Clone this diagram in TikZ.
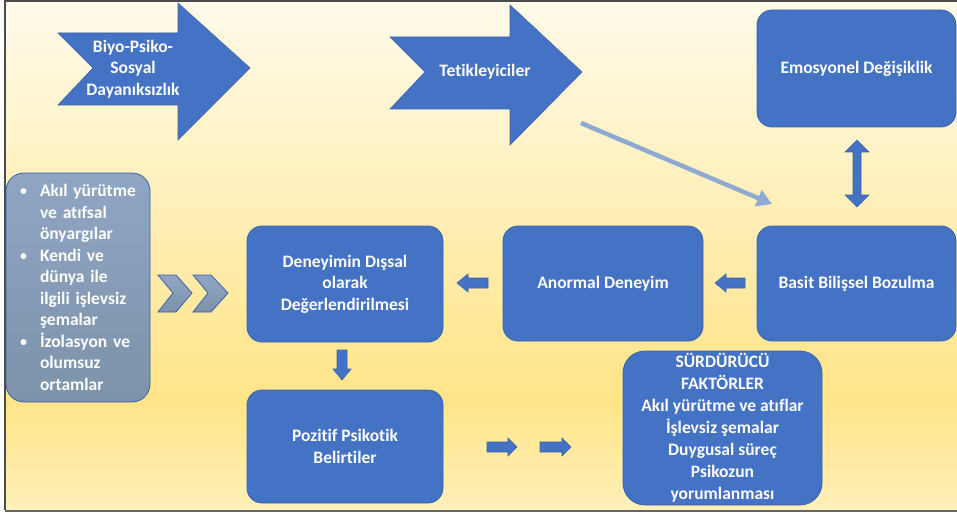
\documentclass[tikz,border=0pt]{standalone}
\usepackage{fontspec}
\setmainfont{Carlito}[Ligatures=NoCommon]
\usetikzlibrary{arrows.meta}
\definecolor{bluefill}{HTML}{4472C4}
\definecolor{blueline}{HTML}{3A62AB}
\definecolor{grayA}{HTML}{8FA5C4}
\definecolor{grayB}{HTML}{7D93A9}
\definecolor{bgtop}{HTML}{FFFBEB}
\definecolor{bgmid}{HTML}{FFE488}
\definecolor{bgbot}{HTML}{FFF0BA}
\definecolor{lightarrow}{HTML}{8FAAD2}
\newcommand\bul{\makebox[20pt][l]{\raisebox{1pt}{\scalebox{0.8}{\textbullet}}}}
\newcommand\ind{\hspace*{20pt}}
\tikzset{
 txt/.style={font=\fontsize{17.5}{21.5}\selectfont\bfseries},
 box/.style={draw=blueline, line width=0.8pt, fill=bluefill, rounded corners=15pt, text=white, align=center, txt, inner sep=0pt},
 blk/.style={draw=blueline, fill=bluefill, line width=0.6pt, line join=miter},
 chev/.style={draw=blueline, top color=grayA, bottom color=grayB, line width=0.8pt, line join=miter},
 lbl/.style={text=white, align=center, txt, inner sep=0pt},
}
\begin{document}
\begin{tikzpicture}[x=1pt,y=-1pt]
\useasboundingbox (0,0) rectangle (957,513);
\fill[white] (0,0) rectangle (957,513);
\shade[top color=bgtop, bottom color=bgmid] (5,1) rectangle (957,400);
\shade[top color=bgmid, bottom color=bgbot] (5,399.5) rectangle (957,510);
\draw[line width=1.5pt, black!70] (4,1) -- (957,1);
\draw[line width=1.5pt, black!70] (5,1) -- (5,510);
\draw[line width=2.5pt, black!60] (5,511) -- (957,511);

% big block arrows
\draw[blk] (58,33) -- (178,33) -- (178,3) -- (250,68) -- (178,140) -- (178,105) -- (58,105) -- (93,68) -- cycle;
\node[lbl] (biyo) at (133,69) {Biyo-Psiko-\\Sosyal\\Dayanıksızlık};
\draw[blk] (390,37) -- (510,37) -- (510,5) -- (582,72) -- (510,145) -- (510,109) -- (390,109) -- (425,72) -- cycle;
\node[lbl] (tet) at (485,72) {Tetikleyiciler};

% boxes
\node[box, minimum width=199pt, minimum height=117pt] (emo) at (856.5,68.5) {Emosyonel Değişiklik};
\node[box, minimum width=199pt, minimum height=115pt] (basit) at (856.5,283.5) {Basit Bilişsel Bozulma};
\node[box, minimum width=200pt, minimum height=115pt] (anormal) at (603,283.5) {Anormal Deneyim};
\node[box, minimum width=196pt, minimum height=116pt] (dis) at (345,284) {Deneyimin Dışsal\\olarak\\Değerlendirilmesi};
\node[box, minimum width=196pt, minimum height=113pt] (poz) at (345,446.5) {Pozitif Psikotik\\Belirtiler};
\node[box, rounded corners=22pt, minimum width=199pt, minimum height=154pt, font=\fontsize{17.5}{22}\selectfont\bfseries] (surd) at (722.5,428) {SÜRDÜRÜCÜ\\FAKTÖRLER\\Akıl yürütme ve atıflar\\İşlevsiz şemalar\\Duygusal süreç\\Psikozun\\yorumlanması};

% left grey box
\node[draw=blueline, line width=0.8pt, top color=grayA, bottom color=grayB, rounded corners=18pt, minimum width=144pt, minimum height=229pt, text width=116pt, align=left, text=white, txt, inner sep=0pt] (risk) at (78,287.5)
{\bul Akıl yürütme\\ \ind ve atıfsal\\ \ind önyargılar\\ \bul Kendi ve\\ \ind dünya ile\\ \ind ilgili işlevsiz\\ \ind şemalar\\ \bul İzolasyon ve\\ \ind olumsuz\\ \ind ortamlar};

% chevrons
\draw[chev] (158,275) -- (176,275) -- (192,293) -- (176,312) -- (158,312) -- (173,293) -- cycle;
\draw[chev] (193,275) -- (211,275) -- (228,293) -- (211,312) -- (193,312) -- (208,293) -- cycle;

% light blue arrow
\coordinate (lbs) at (581,123);
\coordinate (lbe) at (772,204);
\draw[lightarrow, line width=4.5pt, -{Triangle[length=15pt,width=17pt]}] (lbs) -- (lbe);

% double vertical arrow
\draw[blk] (857,140) -- (869,152) -- (861,152) -- (861,195) -- (869,195) -- (857,207) -- (845,195) -- (853,195) -- (853,152) -- (845,152) -- cycle;

% small arrows
\draw[blk] (488,278) -- (468,278) -- (468,274) -- (457,283) -- (468,292) -- (468,288) -- (488,288) -- cycle;
\draw[blk] (745,278) -- (726,278) -- (726,274) -- (715,283) -- (726,292) -- (726,288) -- (745,288) -- cycle;
\draw[blk] (337,350) -- (347,350) -- (347,369) -- (351,369) -- (342,380) -- (333,369) -- (337,369) -- cycle;
\draw[blk] (487,442) -- (508,442) -- (508,438) -- (517,447) -- (508,456) -- (508,452) -- (487,452) -- cycle;
\draw[blk] (540,442) -- (562,442) -- (562,438) -- (571,447) -- (562,456) -- (562,452) -- (540,452) -- cycle;
\end{tikzpicture}
\end{document}
